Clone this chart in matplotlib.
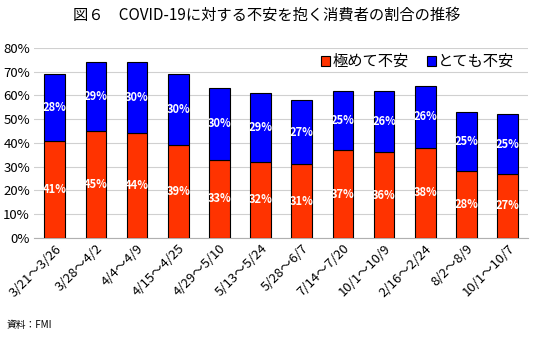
import matplotlib
matplotlib.use("Agg")
import matplotlib.pyplot as plt
import numpy as np

plt.rcParams['font.family'] = ['Noto Sans CJK JP', 'DejaVu Sans']

categories = ["3/21～3/26", "3/28～4/2", "4/4～4/9", "4/15～4/25", "4/29～5/10",
              "5/13～5/24", "5/28～6/7", "7/14～7/20", "10/1～10/9", "2/16～2/24",
              "8/2～8/9", "10/1～10/7"]
extremely = [41, 45, 44, 39, 33, 32, 31, 37, 36, 38, 28, 27]
very = [28, 29, 30, 30, 30, 29, 27, 25, 26, 26, 25, 25]
yticks = [0, 10, 20, 30, 40, 50, 60, 70, 80]

fig = plt.figure(figsize=(5.34, 3.4), dpi=100)
ax = fig.add_axes([0.064, 0.30, 0.925, 0.559])

x = np.arange(len(categories))
red = '#FF3300'
blue = '#0000FF'
b1 = ax.bar(x, extremely, width=0.5, color=red, edgecolor='black', linewidth=0.8,
            label='極めて不安', zorder=3)
b2 = ax.bar(x, very, width=0.5, bottom=extremely, color=blue, edgecolor='black',
            linewidth=0.8, label='とても不安', zorder=3)

for xi, r, b in zip(x, extremely, very):
    ax.text(xi, r / 2, f"{r}%", ha='center', va='center', color='white',
            fontsize=8, fontweight='bold', zorder=4)
    ax.text(xi, r + b / 2, f"{b}%", ha='center', va='center', color='white',
            fontsize=8, fontweight='bold', zorder=4)

ax.set_xlim(-0.5, len(categories) - 0.5)
ax.set_ylim(0, 80)
ax.set_yticks(yticks)
ax.set_yticklabels([f"{v}%" for v in yticks], fontsize=9.5)
ax.yaxis.grid(True, color='#d0d0d0', linewidth=0.8, zorder=0)
ax.set_xticks(x)
ax.set_xticklabels(categories, rotation=45, ha='right', rotation_mode='anchor', fontsize=9.5)
ax.tick_params(axis='both', length=0, pad=3)
for s in ['top', 'right', 'left']:
    ax.spines[s].set_visible(False)
ax.spines['bottom'].set_color('#b0b0b0')

leg = ax.legend(loc='upper right', ncol=2, frameon=False, fontsize=11,
                handlelength=0.6, handleheight=0.6, handletextpad=0.15,
                columnspacing=1.2, bbox_to_anchor=(0.985, 1.005), borderaxespad=0)

fig.text(0.5, 0.955, "図６　COVID-19に対する不安を抱く消費者の割合の推移", ha='center', va='center',
         fontsize=11)
fig.text(0.012, 0.045, "資料：FMI", ha='left', va='center', fontsize=7)

fig.savefig("out.png", dpi=100)
